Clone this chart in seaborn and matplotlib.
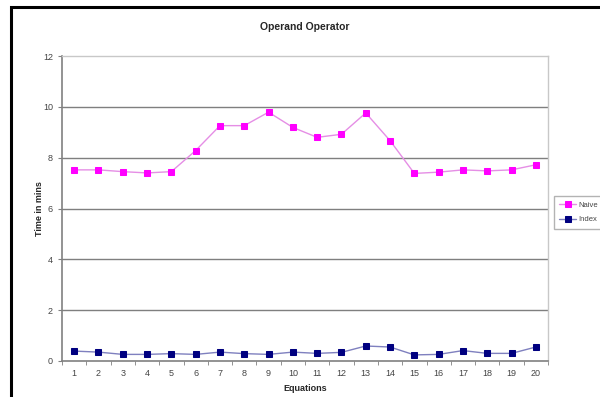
import numpy as np
import pandas as pd
import seaborn as sns
import matplotlib.pyplot as plt
from matplotlib.patches import Rectangle

# Values
equations = list(range(1, 21))
naive = [7.52, 7.52, 7.45, 7.40, 7.45, 8.28, 9.26, 9.26, 9.79, 9.19,
         8.80, 8.92, 9.76, 8.67, 7.38, 7.43, 7.52, 7.48, 7.52, 7.72]
index = [0.39, 0.35, 0.26, 0.26, 0.29, 0.26, 0.35, 0.29, 0.26, 0.35,
         0.30, 0.34, 0.59, 0.55, 0.24, 0.26, 0.41, 0.30, 0.30, 0.55]
y_ticks = [0, 2, 4, 6, 8, 10, 12]

df = pd.DataFrame({"Equations": equations + equations,
                   "Time": naive + index,
                   "Series": ["Naive"] * 20 + ["Index"] * 20})

sns.set_style("white")
plt.rcParams["font.family"] = ["Liberation Sans", "DejaVu Sans"]

fig = plt.figure(figsize=(6.0, 3.97), dpi=100)
ax = fig.add_axes([62 / 600, 1 - 361 / 397, (548 - 62) / 600, (361 - 56) / 397])

# outer frame (only left and top edges visible in the crop)
fig.patches.append(Rectangle((11 / 600, -0.1), 1.2, 1 - 7 / 397 + 0.1,
                             transform=fig.transFigure, fill=False,
                             edgecolor="black", linewidth=2.2, zorder=0))

for y in y_ticks[1:-1]:
    ax.axhline(y, color="#7f7f7f", linewidth=1.0, zorder=0)

line_colors = {"Naive": "#e58ee5", "Index": "#7f80bf"}
marker_colors = {"Naive": "#ff00ff", "Index": "#000080"}
for name in ["Naive", "Index"]:
    sub = df[df["Series"] == name]
    sns.lineplot(data=sub, x="Equations", y="Time", ax=ax, color=line_colors[name],
                 linewidth=1.0, marker="s", markersize=4.7, markerfacecolor=marker_colors[name],
                 markeredgecolor=marker_colors[name], label=name, zorder=3)

ax.set_xlim(0.5, 20.5)
ax.set_ylim(0, 12)
ax.set_yticks(y_ticks)
ax.set_xticks(equations)
ax.set_xticks(np.arange(0.5, 21, 1), minor=True)
ax.tick_params(axis="x", which="major", length=0, labelsize=6.5, labelcolor="#444444", pad=6)
ax.tick_params(axis="x", which="minor", length=3, color="#808080", direction="out", bottom=True)
ax.tick_params(axis="y", length=3, color="#808080", labelsize=6.5, labelcolor="#444444",
               direction="out", left=True)

for side in ["left", "bottom"]:
    ax.spines[side].set_color("#808080")
    ax.spines[side].set_linewidth(1.2)
for side in ["top", "right"]:
    ax.spines[side].set_color("#c8c8c8")
    ax.spines[side].set_linewidth(1.0)

ax.set_xlabel("Equations", fontsize=6.5, fontweight="bold", labelpad=4)
ax.set_ylabel("Time in mins", fontsize=6.5, fontweight="bold", labelpad=-1)
fig.text(305 / 600, 1 - 27 / 397, "Operand Operator", fontsize=7.5, fontweight="bold",
         ha="center", va="center")

leg = ax.legend(loc="center left", bbox_to_anchor=((554 - 62) / 486, 0.487),
                borderaxespad=0, fontsize=5.5, frameon=True, fancybox=False,
                edgecolor="#a0a0a0", handlelength=2.2, borderpad=0.7,
                labelspacing=0.9, handletextpad=0.3, markerscale=0.85)
for t in leg.get_texts():
    t.set_color("#444444")

fig.savefig("out.png", dpi=100)
